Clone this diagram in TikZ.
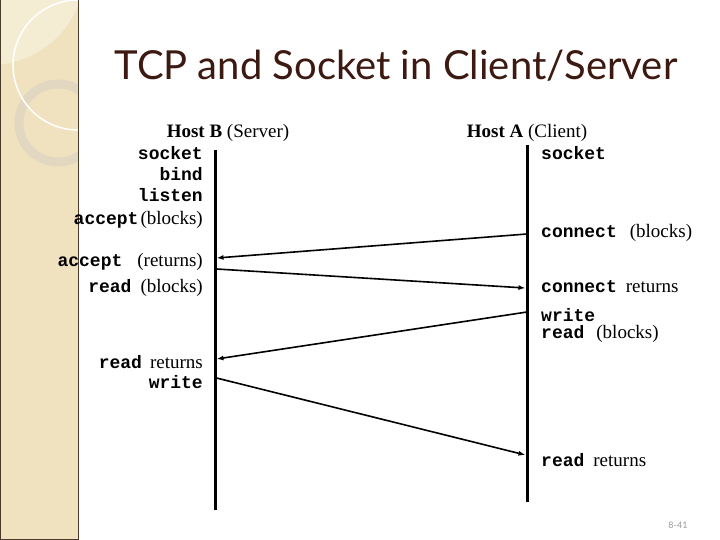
\documentclass[tikz,border=0pt]{standalone}
\usepackage{fontspec}
\setmainfont{Liberation Serif}
\newfontfamily\codefont{Liberation Mono}
\newfontfamily\titlefont{Lato}
\usetikzlibrary{positioning}
\usetikzlibrary{arrows.meta}
\definecolor{strip}{HTML}{F0E2BE}
\definecolor{stripedge}{HTML}{4A3C2A}
\definecolor{ringgray}{HTML}{E2D8C2}
\definecolor{titlebrown}{HTML}{3C1A12}
\newcommand{\cmd}[1]{{\codefont\bfseries\fontsize{18}{20}\selectfont #1}}

\begin{document}
\begin{tikzpicture}[x=1pt, y=-1pt,
    L/.style={anchor=base east, inner sep=0pt, font=\fontsize{19}{21}\selectfont},
    R/.style={anchor=base west, inner sep=0pt, font=\fontsize{19}{21}\selectfont},
    life/.style={line width=3pt},
    msg/.style={-{Latex[length=7pt,width=5pt]}, line width=1.6pt}]
    \useasboundingbox (0,0) rectangle (720,540);
    \fill[white] (0,0) rectangle (720,540);
    % side strip
    \fill[strip] (0,0) rectangle (78,540);
    \begin{scope}
        \clip (0,0) rectangle (78,540);
        \fill[white, opacity=0.35] (-10,-30) circle (95);
        \draw[ringgray, line width=9pt] (58,123) circle (39);
        \draw[white, line width=1.5pt] (78,65) circle (65);
    \end{scope}
    \draw[stripedge, line width=1pt] (0.5,0) -- (0.5,539.5) -- (78,539.5) -- (78,0);
    % title
    \node[font=\titlefont\fontsize{40}{44}\selectfont, text=titlebrown, anchor=base] (title) at (396,80) {TCP and Socket in Client/Server};
    \node[font=\titlefont\fontsize{9}{10}\selectfont, text=gray!80, anchor=base east] (page) at (691,528) {8-41};
    % hosts
    \node[font=\fontsize{19}{21}\selectfont, anchor=base, inner sep=0pt] (host_B) at (228,138) {\textbf{Host B} (Server)};
    \node[font=\fontsize{19}{21}\selectfont, anchor=base, inner sep=0pt] (host_A) at (527,138) {\textbf{Host A} (Client)};
    \coordinate (B_top) at (215,150);
    \coordinate (B_bot) at (215,510);
    \coordinate (A_top) at (527,145);
    \coordinate (A_bot) at (527,502);
    \draw[life] (B_top) -- (B_bot);
    \draw[life] (A_top) -- (A_bot);
    % server calls
    \node[L] (B_socket) at (203,160) {\cmd{socket}};
    \node[L] (B_bind) at (203,181) {\cmd{bind}};
    \node[L] (B_listen) at (203,202) {\cmd{listen}};
    \node[L] (B_accept) at (203,225) {\cmd{accept}\hspace{2pt}(blocks)};
    \node[L] (B_acc_ret) at (203,266) {\cmd{accept}\hspace{15pt}(returns)};
    \node[L] (B_read) at (203,292) {\cmd{read}\hspace{9pt}(blocks)};
    \node[L] (B_read_ret) at (203,368) {\cmd{read}\hspace{8pt}returns};
    \node[L] (B_write) at (203,388) {\cmd{write}};
    % client calls
    \node[R] (A_socket) at (541,160) {\cmd{socket}};
    \node[R] (A_connect) at (541,237) {\cmd{connect}\hspace{13pt}(blocks)};
    \node[R] (A_con_ret) at (541,292) {\cmd{connect}\hspace{9pt}returns};
    \node[R] (A_write) at (541,321) {\cmd{write}};
    \node[R] (A_read) at (541,338) {\cmd{read}\hspace{12pt}(blocks)};
    \node[R] (A_read_ret) at (541,466) {\cmd{read}\hspace{9pt}returns};
    % messages
    \coordinate (A_m1) at (527,234);
    \coordinate (B_m1) at (216.5,258);
    \coordinate (B_m2) at (216.5,269);
    \coordinate (A_m2) at (525.5,288);
    \coordinate (A_m3) at (527,312);
    \coordinate (B_m3) at (216.5,359);
    \coordinate (B_m4) at (216.5,378);
    \coordinate (A_m4) at (525.5,455);
    \draw[msg] (A_m1) -- (B_m1);
    \draw[msg] (B_m2) -- (A_m2);
    \draw[msg] (A_m3) -- (B_m3);
    \draw[msg] (B_m4) -- (A_m4);
\end{tikzpicture}
\end{document}
